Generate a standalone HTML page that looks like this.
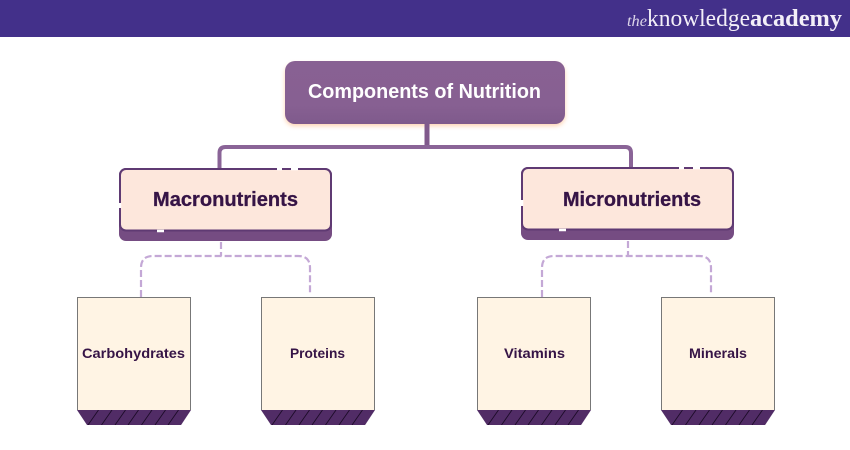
<!DOCTYPE html>
<html><head><meta charset="utf-8"><style>html,body{margin:0;padding:0;background:#fff}svg{display:block}</style></head>
<body>
<svg width="850" height="450" viewBox="0 0 850 450" xmlns="http://www.w3.org/2000/svg">
<defs>
<filter id="glow" x="-10%" y="-20%" width="120%" height="150%"><feGaussianBlur stdDeviation="2.500"/></filter>
<linearGradient id="topFill" x1="0" y1="0" x2="0" y2="1"><stop offset="0" stop-color="#886193"/><stop offset="0.7" stop-color="#876092"/><stop offset="1" stop-color="#7f5a8c"/></linearGradient>
<clipPath id="trap"><path d="M0 113H114L104 128H10Z"/></clipPath>
<g id="leaf">
<rect x="0.500" y="0.500" width="113" height="113" fill="#fff4e4"/>
<path d="M0.500 113V0.500H113.500V113" fill="none" stroke="#777" stroke-width="1"/>
<path d="M0 113H114L104 128H10Z" fill="#512c66"/>
<g clip-path="url(#trap)"><path d="M11 128L21.500 113M24.500 128L35 113M38 128L48.500 113M51 128L61.500 113M64.500 128L75 113M78 128L88.500 113M91 128L101.500 113M104.500 128L115 113" stroke="#1c0c28" stroke-width="0.900" fill="none"/></g>
</g>
</defs>
<rect width="850" height="450" fill="#fff"/>
<rect width="850" height="37" fill="#43308a"/>
<g font-family="'Liberation Serif',serif" fill="#f3eff8">
<text x="627" y="26" font-size="16" font-style="italic" textLength="20" lengthAdjust="spacingAndGlyphs" fill="#ddd6ea">the</text>
<text x="647" y="26" font-size="24" textLength="103" lengthAdjust="spacingAndGlyphs">knowledge</text>
<text x="750" y="26" font-size="24" font-weight="bold" textLength="92" lengthAdjust="spacingAndGlyphs">academy</text>
</g>

<!-- top box glow -->
<rect x="285" y="64" width="280" height="62" rx="10" fill="#ffc79c" filter="url(#glow)" opacity="0.800"/>

<!-- solid connectors -->
<path d="M427 124V147" fill="none" stroke="#80598c" stroke-width="5"/>
<path d="M219.500 168V153Q219.500 147 225.500 147H625.500Q631 147 631 153V168" fill="none" stroke="#8a6497" stroke-width="4"/>

<!-- top box -->
<rect x="285" y="61" width="280" height="63" rx="10" fill="url(#topFill)"/>
<text x="308" y="98" font-family="'Liberation Sans',sans-serif" font-weight="bold" font-size="20" fill="#fff" textLength="233" lengthAdjust="spacingAndGlyphs">Components of Nutrition</text>

<!-- macro -->
<rect x="119" y="168" width="213" height="73" rx="7" fill="#754c82"/>
<rect x="120" y="169" width="211" height="61.500" rx="6" fill="#fde7dc" stroke="#5f3a73" stroke-width="2"/>
<path d="M277 169h5M291 169h7M120 203v5M157 231h7" stroke="#fff" stroke-width="2.500"/>
<text x="153" y="206" font-family="'Liberation Sans',sans-serif" font-weight="bold" font-size="20" fill="#361446" stroke="#361446" stroke-width="0.300" textLength="145" lengthAdjust="spacingAndGlyphs">Macronutrients</text>

<!-- micro -->
<rect x="521" y="167" width="213" height="73" rx="7" fill="#754c82"/>
<rect x="522" y="168" width="211" height="61.500" rx="6" fill="#fde7dc" stroke="#5f3a73" stroke-width="2"/>
<path d="M679 168h5M693 168h7M522 200v6M559 230h7" stroke="#fff" stroke-width="2.500"/>
<text x="563" y="206" font-family="'Liberation Sans',sans-serif" font-weight="bold" font-size="20" fill="#361446" stroke="#361446" stroke-width="0.300" textLength="138" lengthAdjust="spacingAndGlyphs">Micronutrients</text>

<!-- dashed connectors -->
<g fill="none" stroke="#c4a8d6" stroke-width="2.200" stroke-dasharray="7 3">
<path d="M221 242V256"/>
<path d="M141 297V268Q141 256 153 256H298Q310 256 310 268V295"/>
<path d="M628 241V256"/>
<path d="M542 297V268Q542 256 554 256H699Q711 256 711 268V295"/>
</g>

<!-- leaf cards -->
<use href="#leaf" x="77" y="297"/>
<use href="#leaf" x="261" y="297"/>
<use href="#leaf" x="477" y="297"/>
<use href="#leaf" x="661" y="297"/>
<g font-family="'Liberation Sans',sans-serif" font-weight="bold" font-size="14" fill="#361446">
<text x="82" y="358" textLength="103" lengthAdjust="spacingAndGlyphs">Carbohydrates</text>
<text x="290" y="358" textLength="55" lengthAdjust="spacingAndGlyphs">Proteins</text>
<text x="504" y="358" textLength="61" lengthAdjust="spacingAndGlyphs">Vitamins</text>
<text x="689" y="358" textLength="58" lengthAdjust="spacingAndGlyphs">Minerals</text>
</g>
</svg>
</body></html>
